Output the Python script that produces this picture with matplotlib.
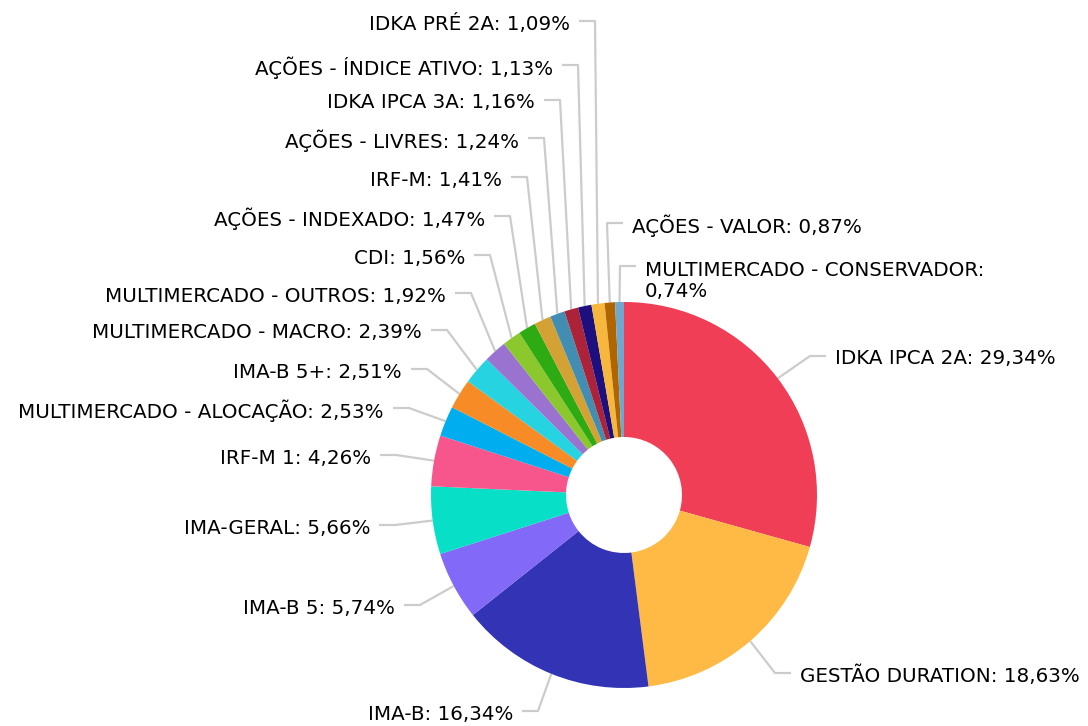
import matplotlib
matplotlib.use('Agg')
import numpy as np
import matplotlib.pyplot as plt

# dados da carteira
categorias = ['IDKA IPCA 2A', 'GESTÃO DURATION', 'IMA-B', 'IMA-B 5', 'IMA-GERAL',
              'IRF-M 1', 'MULTIMERCADO - ALOCAÇÃO', 'IMA-B 5+', 'MULTIMERCADO - MACRO',
              'MULTIMERCADO - OUTROS', 'CDI', 'AÇÕES - INDEXADO', 'IRF-M',
              'AÇÕES - LIVRES', 'IDKA IPCA 3A', 'AÇÕES - ÍNDICE ATIVO', 'IDKA PRÉ 2A',
              'AÇÕES - VALOR', 'MULTIMERCADO - CONSERVADOR']
valores = [29.34, 18.63, 16.34, 5.74, 5.66, 4.26, 2.53, 2.51, 2.39, 1.92,
           1.56, 1.47, 1.41, 1.24, 1.16, 1.13, 1.09, 0.87, 0.74]
cores = ['#EF3E55', '#FFBA45', '#3333B5', '#8269F7', '#07DFC7', '#F7568C', '#00AEEF',
         '#F78C26', '#26D3E1', '#9A73D1', '#8BC82E', '#2EAA12', '#D4A134', '#428EB3',
         '#AC2238', '#1E0F7E', '#F7B73D', '#B06500', '#6FA7CF']

# posicao dos rotulos (x da borda do texto, y do centro, alinhamento) em pixels
rotulos_pos = [
    (835, 359, 'left'), (800, 676, 'left'), (513, 714, 'right'), (395, 608, 'right'),
    (370, 528, 'right'), (371, 458, 'right'), (384, 411, 'right'), (402, 372, 'right'),
    (422, 333, 'right'), (446, 296, 'right'), (465, 258, 'right'), (485, 219, 'right'),
    (502, 180, 'right'), (519, 141, 'right'), (535, 103, 'right'), (553, 68, 'right'),
    (570, 24, 'right'), (632, 226, 'left'), (645, 281, 'left'),
]

W, H = 1088, 726
cx, cy, r_ext, r_int = 624, 495, 193, 58

fig = plt.figure(figsize=(W / 100, H / 100), dpi=100)
ax = fig.add_axes([0, 0, 1, 1])

wedges, _ = ax.pie(valores, colors=cores, startangle=-90, counterclock=True,
                   center=(cx, cy), radius=r_ext,
                   wedgeprops=dict(width=r_ext - r_int, linewidth=0))

ax.set_xlim(0, W)
ax.set_ylim(H, 0)
ax.set_aspect('equal')
ax.axis('off')

def fmt(v):
    return f'{v:.2f}'.replace('.', ',') + '%'

for w, nome, v, (tx, ty, ha) in zip(wedges, categorias, valores, rotulos_pos):
    ang = np.deg2rad((w.theta1 + w.theta2) / 2)
    ax_, ay_ = cx + r_ext * np.cos(ang), cy + r_ext * np.sin(ang)
    texto = f'{nome}: {fmt(v)}'
    if nome == 'MULTIMERCADO - CONSERVADOR':
        texto = f'{nome}:\n{fmt(v)}'
        ly = ty - 15
    else:
        ly = ty - 3
    s = 1 if ha == 'right' else -1
    xs = [tx + s * 9, tx + s * 25, ax_]
    ys = [ly, ly, ay_]
    ax.plot(xs, ys, color='#CCCCCC', lw=1.6, solid_capstyle='butt', zorder=0)
    ax.text(tx, ty, texto, ha=ha, va='center', fontsize=14.3, color='#000000',
            linespacing=1.1)

fig.savefig('out.png', dpi=100)
